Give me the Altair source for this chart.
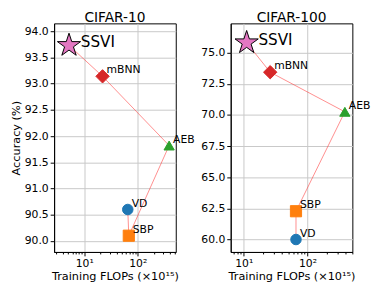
import altair as alt
import pandas as pd

methods = ["SSVI", "mBNN", "AEB", "SBP", "VD"]  # path order
colors = ["#e377c2", "#d62728", "#2ca02c", "#ff7f0e", "#1f77b4"]

c10_flops = [5.2, 22.0, 385.0, 68.0, 65.0]
c10_acc = [93.73, 93.14, 91.82, 90.10, 90.60]

c100_flops = [11.1, 26.0, 386.0, 66.0, 66.0]
c100_acc = [75.8, 73.43, 70.25, 62.27, 60.0]

c10_yticks = [90.0, 90.5, 91.0, 91.5, 92.0, 92.5, 93.0, 93.5, 94.0]
c100_yticks = [60.0, 62.5, 65.0, 67.5, 70.0, 72.5, 75.0]
xticks = [2, 3, 4, 5, 6, 7, 8, 9, 10, 20, 30, 40, 50, 60, 70, 80, 90, 100, 200, 300, 400, 500]

STAR = ("M0,-1L0.2245,-0.309L0.951,-0.309L0.363,0.118L0.588,0.809L0,0.382"
        "L-0.588,0.809L-0.363,0.118L-0.951,-0.309L-0.2245,-0.309Z")
shapes = [STAR, "diamond", "triangle-up", "square", "circle"]
sizes = [620, 185, 110, 130, 115]
strokes = ["black", "#d62728", "#2ca02c", "#ff7f0e", "#1f77b4"]

MAJOR = "datum.value == 10 || datum.value == 100"


def panel(flops, acc, title, ydom, yvals, xdom, ytitle):
    df = pd.DataFrame({"method": methods, "flops": flops, "acc": acc,
                       "order": list(range(len(methods)))})
    xv = [v for v in xticks if xdom[0] <= v <= xdom[1]]
    x = alt.X("flops:Q",
              scale=alt.Scale(type="log", domain=xdom, nice=False, zero=False),
              axis=alt.Axis(values=xv, title="Training FLOPs (×10¹⁵)",
                            labelExpr="datum.value == 10 ? '10¹' : datum.value == 100 ? '10²' : ''",
                            labelOverlap=False, titlePadding=2,
                            tickSize={"condition": {"test": MAJOR, "value": 4}, "value": 2},
                            gridOpacity={"condition": {"test": MAJOR, "value": 1}, "value": 0}))
    if ytitle:
        yaxis = alt.Axis(values=yvals, format=".1f", labelOverlap=False, tickSize=4,
                         labelPadding=2, title=ytitle, titlePadding=3)
    else:
        yaxis = alt.Axis(values=yvals, format=".1f", labelOverlap=False, tickSize=4,
                         labelPadding=2, title=None)
    y = alt.Y("acc:Q", scale=alt.Scale(domain=ydom, nice=False, zero=False), axis=yaxis)
    base = alt.Chart(df)
    line = base.mark_line(color="#ff3030", opacity=0.55, strokeWidth=1).encode(
        x=x, y=y, order="order:Q")
    pts = base.mark_point(filled=True, opacity=1, strokeWidth=1).encode(
        x=x, y=y,
        shape=alt.Shape("method:N", scale=alt.Scale(domain=methods, range=shapes), legend=None),
        color=alt.Color("method:N", scale=alt.Scale(domain=methods, range=colors), legend=None),
        stroke=alt.Stroke("method:N", scale=alt.Scale(domain=methods, range=strokes), legend=None),
        size=alt.Size("method:N", scale=alt.Scale(type="ordinal", domain=methods, range=sizes),
                      legend=None),
    )
    small = base.mark_text(align="left", baseline="alphabetic", dx=4, dy=-3,
                           fontSize=11, font="DejaVu Sans", color="black").encode(
        x=x, y=y, text="method:N").transform_filter("datum.method != 'SSVI'")
    big = base.mark_text(align="left", baseline="alphabetic", dx=12, dy=2,
                         fontSize=15.5, font="DejaVu Sans", color="black").encode(
        x=x, y=y, text="method:N").transform_filter("datum.method == 'SSVI'")
    return alt.layer(line, pts, small, big).properties(
        width=124, height=233, title=title)


left = panel(c10_flops, c10_acc, "CIFAR-10", [89.79, 94.15], c10_yticks, [2.74, 512], "Accuracy (%)")
right = panel(c100_flops, c100_acc, "CIFAR-100", [59.0, 77.35], c100_yticks, [6.24, 506], None)

chart = alt.hconcat(left, right, spacing=56, bounds="flush").configure(
    font="DejaVu Sans", padding={"left": 2, "top": 0, "right": 0, "bottom": 0}
).configure_view(stroke="black", strokeWidth=1).configure_axis(
    labelFont="DejaVu Sans", titleFont="DejaVu Sans", labelFontSize=11,
    titleFontSize=11.5, titleFontWeight="normal", labelColor="black",
    titleColor="black", tickColor="black", domainColor="black",
    gridColor="#c8c8c8", gridWidth=1,
).configure_title(font="DejaVu Sans", fontSize=14, fontWeight="normal",
                  color="black", offset=-1.5)

chart.save("out.html", embed_options={"renderer": "svg", "actions": False})
